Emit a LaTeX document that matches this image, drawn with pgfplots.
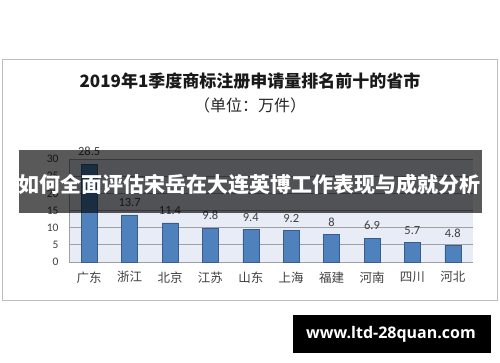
\documentclass[border=0pt]{standalone}
\usepackage{fontspec}
\usepackage{pgfplots}
\pgfplotsset{compat=1.18}
\setmainfont{Carlito}
\newfontfamily\cjk{Noto Sans CJK SC}
\newfontfamily\wm{Open Sans}
\definecolor{barblue}{RGB}{79,129,189}
\definecolor{barborder}{RGB}{56,93,138}
\definecolor{plotbg}{RGB}{232,236,246}
\definecolor{gridgray}{RGB}{160,160,160}
\definecolor{framegray}{RGB}{190,190,190}
\definecolor{labgray}{RGB}{64,64,64}
\begin{document}
\begin{tikzpicture}[x=1pt,y=1pt]
\fill[white] (0,0) rectangle (500,362);
\draw[framegray, line width=1pt] (2.5,61.5) rectangle (497,302);
\node[font=\cjk\bfseries\fontsize{17}{20}\selectfont, text=black!90] at (250,281) {2019年1季度商标注册申请量排名前十的省市};
\node[font=\cjk\fontsize{16}{19}\selectfont, text=black!85] at (250,257) {（单位：万件）};
\begin{axis}[
  at={(69pt,100pt)}, anchor=south west,
  scale only axis, width=404pt, height=103pt,
  xmin=-0.5, xmax=9.5, ymin=0, ymax=30,
  ytick={0,5,10,15,20,25,30},
  xtick=data,
  xticklabels={广东,浙江,北京,江苏,山东,上海,福建,河南,四川,河北},
  xticklabel style={font=\cjk\fontsize{12.5}{14}\selectfont, text=labgray, yshift=-6pt},
  yticklabel style={font=\fontsize{11.5}{13}\selectfont, text=labgray, xshift=-7pt},
  /pgf/number format/assume math mode=true,
  major tick length=0pt,
  axis lines*=left,
  axis line style={-, draw=gridgray, line width=0.8pt},
  ymajorgrids, grid style={draw=gridgray, line width=0.8pt},
  axis background/.style={fill=plotbg},
  clip=false,
]
\addplot[ybar, bar width=16pt, fill=barblue, draw=barborder, line width=0.6pt,
  nodes near coords,
  nodes near coords style={font=\fontsize{12.5}{14}\selectfont, text=labgray, anchor=south, inner sep=0pt, yshift=8pt}]
  coordinates {(0,28.5) (1,13.7) (2,11.4) (3,9.8) (4,9.4) (5,9.2) (6,8) (7,6.9) (8,5.7) (9,4.8)};
\end{axis}
\fill[black, opacity=0.65] (19,149) rectangle (482,212);
\node[text=white, font=\cjk\bfseries\fontsize{21}{24}\selectfont] at (249.5,178) {如何全面评估宋岳在大连英博工作表现与成就分析};
\fill[black] (293,9) rectangle (491,47);
\node[text=white, font=\wm\bfseries\fontsize{16}{18}\selectfont] at (391,28) {www.ltd-28quan.com};
\end{tikzpicture}
\end{document}
